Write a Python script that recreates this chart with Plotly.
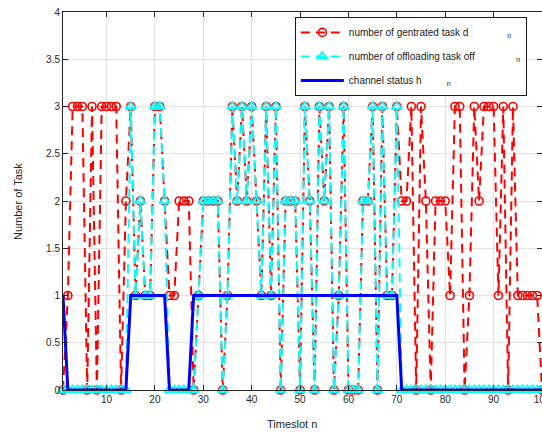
import plotly.graph_objects as go

# Timeslots 1..100
timeslot = list(range(1, 101))

# Number of generated tasks d_n per timeslot
generated = [
    0, 1, 3, 3, 3, 0, 3, 0, 3, 3,
    3, 3, 0, 2, 3, 1, 2, 1, 1, 3,
    3, 2, 1, 1, 2, 2, 2, 0, 1, 2,
    2, 2, 2, 0, 1, 3, 2, 3, 2, 3,
    2, 1, 3, 1, 3, 0, 2, 2, 2, 0,
    3, 2, 0, 3, 2, 3, 0, 1, 3, 0,
    0, 0, 2, 2, 3, 0, 3, 1, 1, 3,
    2, 2, 3, 0, 3, 2, 0, 2, 2, 2,
    1, 3, 3, 0, 1, 3, 2, 3, 3, 3,
    1, 3, 0, 3, 1, 1, 1, 1, 1, 0,
]

# Number of offloaded tasks off_n per timeslot
offloaded = [
    0, 0, 0, 0, 0, 0, 0, 0, 0, 0,
    0, 0, 0, 0, 3, 1, 2, 1, 1, 3,
    3, 2, 0, 0, 0, 0, 0, 0, 1, 2,
    2, 2, 2, 0, 1, 3, 2, 3, 2, 3,
    2, 1, 3, 1, 3, 0, 2, 2, 2, 0,
    3, 2, 0, 3, 2, 3, 0, 1, 3, 0,
    0, 0, 2, 2, 3, 0, 3, 1, 1, 3,
    0, 0, 0, 0, 0, 0, 0, 0, 0, 0,
    0, 0, 0, 0, 0, 0, 0, 0, 0, 0,
    0, 0, 0, 0, 0, 0, 0, 0, 0, 0,
]

# Channel status h_n per timeslot
channel = [
    1, 0, 0, 0, 0, 0, 0, 0, 0, 0,
    0, 0, 0, 0, 1, 1, 1, 1, 1, 1,
    1, 1, 0, 0, 0, 0, 0, 1, 1, 1,
    1, 1, 1, 1, 1, 1, 1, 1, 1, 1,
    1, 1, 1, 1, 1, 1, 1, 1, 1, 1,
    1, 1, 1, 1, 1, 1, 1, 1, 1, 1,
    1, 1, 1, 1, 1, 1, 1, 1, 1, 1,
    0, 0, 0, 0, 0, 0, 0, 0, 0, 0,
    0, 0, 0, 0, 0, 0, 0, 0, 0, 0,
    0, 0, 0, 0, 0, 0, 0, 0, 0, 0,
]

x_ticks = [10, 20, 30, 40, 50, 60, 70, 80, 90, 100]
y_ticks = [0, 0.5, 1, 1.5, 2, 2.5, 3, 3.5, 4]

FONT = "Liberation Sans, Arial, sans-serif"
AXIS = "#262626"
NB = "\u00a0"

fig = go.Figure()

fig.add_trace(go.Scatter(
    x=timeslot, y=generated, mode="lines+markers",
    name="number of gentrated task d" + NB * 14 + "<sub>n</sub>",
    legendgroup="d",
    line=dict(color="#ff0000", width=2, dash="9px,6px"),
    marker=dict(symbol="circle-open", size=8, color="#ff0000",
                line=dict(width=1.6, color="#ff0000")),
    cliponaxis=False,
))

fig.add_trace(go.Scatter(
    x=timeslot, y=offloaded, mode="lines+markers",
    name="number of offloading task off" + NB * 15 + "<sub>n</sub>",
    legendgroup="off",
    line=dict(color="#00ffff", width=2, dash="9px,6px"),
    marker=dict(symbol="triangle-up-open", size=9, color="#00ffff",
                line=dict(width=1.8, color="#00ffff")),
    cliponaxis=False,
))

fig.add_trace(go.Scatter(
    x=timeslot, y=channel, mode="lines",
    name="channel status h" + NB * 9 + "<sub>n</sub>",
    legendgroup="h",
    line=dict(color="#0000ff", width=3),
    cliponaxis=False,
))

fig.update_layout(
    width=542, height=432,
    margin=dict(l=63, r=0, t=12, b=42, autoexpand=False),
    paper_bgcolor="white", plot_bgcolor="white",
    font=dict(family=FONT, size=10, color=AXIS),
    showlegend=True,
    legend=dict(
        x=0.484, y=0.987, xanchor="left", yanchor="top",
        bgcolor="white", bordercolor="#1a1a1a", borderwidth=1,
        font=dict(family=FONT, size=10, color="#1a1a1a"),
        itemwidth=43, tracegroupgap=5,
    ),
    xaxis=dict(
        range=[1, 100], tickvals=x_ticks, ticktext=[str(v) for v in x_ticks],
        ticks="inside", ticklen=5, tickcolor=AXIS,
        showline=True, linecolor=AXIS, linewidth=1, mirror="ticks",
        showgrid=True, gridcolor="#e3e3e3", gridwidth=1, zeroline=False,
        tickfont=dict(family=FONT, size=10, color=AXIS),
        ticklabeloverflow="allow", automargin=False,
    ),
    yaxis=dict(
        range=[0, 4], tickvals=y_ticks, ticktext=[f"{v:g}" for v in y_ticks],
        ticks="inside", ticklen=5, tickcolor=AXIS,
        showline=True, linecolor=AXIS, linewidth=1, mirror="ticks",
        showgrid=True, gridcolor="#e3e3e3", gridwidth=1, zeroline=False,
        tickfont=dict(family=FONT, size=10, color=AXIS),
        ticklabeloverflow="allow", automargin=False,
    ),
    annotations=[
        dict(text="Timeslot n", xref="paper", yref="paper",
             x=0.478, y=-0.09, xanchor="center", yanchor="middle",
             showarrow=False, font=dict(family=FONT, size=11, color=AXIS)),
        dict(text="Number of Task", xref="paper", yref="paper",
             x=-0.094, y=0.5, xanchor="center", yanchor="middle",
             textangle=-90, showarrow=False,
             font=dict(family=FONT, size=11, color=AXIS)),
    ],
)

fig.write_html("out.html")
